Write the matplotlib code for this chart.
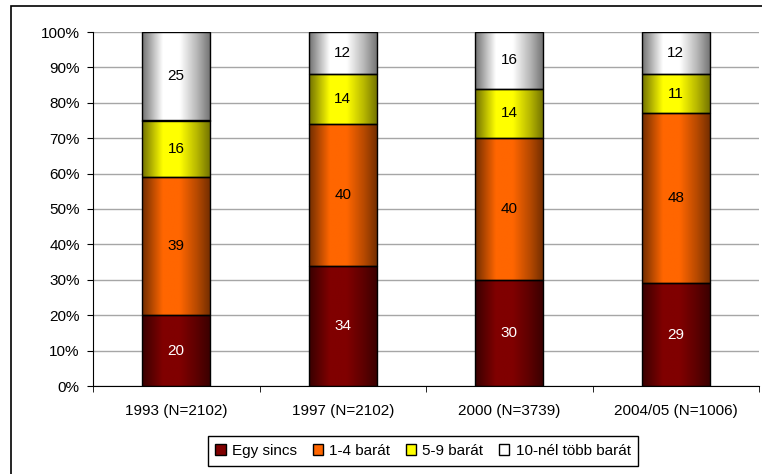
import numpy as np
import matplotlib
matplotlib.use("Agg")
import matplotlib.pyplot as plt
from matplotlib.patches import Patch, Rectangle
from matplotlib.colors import to_rgb

plt.rcParams["font.family"] = ["Liberation Sans", "DejaVu Sans"]

# ---------- data ----------
categories = ["1993 (N=2102)", "1997 (N=2102)", "2000 (N=3739)", "2004/05 (N=1006)"]
series_names = ["Egy sincs", "1-4 barát", "5-9 barát", "10-nél több barát"]
egy_sincs = [20, 34, 30, 29]
barat_1_4 = [39, 40, 40, 48]
barat_5_9 = [16, 14, 14, 11]
barat_10_plus = [25, 12, 16, 12]
series_values = [egy_sincs, barat_1_4, barat_5_9, barat_10_plus]

colors = ["#800000", "#FF6600", "#FFFF00", "#FFFFFF"]
label_colors = ["white", "black", "black", "black"]

FS = 11


def gradient_image(color, n=64):
    # horizontal shading: dark edges, bright middle
    t = np.linspace(0, 1, n)
    f = np.interp(t, [0, 0.3, 0.55, 0.8, 1.0], [0.45, 1.0, 1.0, 0.72, 0.45])
    rgb = np.array(to_rgb(color))
    img = np.clip(f[:, None] * rgb[None, :], 0, 1)
    return img[None, :, :]


def main():
    fig = plt.figure(figsize=(7.62, 4.74), dpi=100)
    ax = fig.add_axes([93 / 762, 1 - 386 / 474, 666 / 762, 354 / 474])

    x = np.arange(len(categories))
    width = 0.41
    bottom = np.zeros(len(categories))
    for vals, col, tcol in zip(series_values, colors, label_colors):
        vals = np.array(vals, dtype=float)
        for xi, b, v in zip(x, bottom, vals):
            ax.imshow(gradient_image(col), extent=(xi - width / 2, xi + width / 2, b, b + v),
                      aspect="auto", zorder=2, interpolation="bilinear")
            ax.text(xi, b + v / 2, "{:d}".format(int(v)), ha="center", va="center",
                    fontsize=FS, color=tcol, zorder=4)
        ax.bar(x, vals, width, bottom=bottom, facecolor="none", edgecolor="black",
               linewidth=1, zorder=3)
        bottom += vals

    ax.set_xlim(-0.5, len(categories) - 0.5)
    ax.set_ylim(0, 100)
    ax.set_yticks(np.arange(0, 101, 10))
    ax.set_yticklabels(["{}%".format(v) for v in range(0, 101, 10)])
    ax.yaxis.grid(True, color="#a6a6a6", linewidth=1)
    ax.set_axisbelow(True)

    ax.set_xticks(x)
    ax.set_xticklabels(categories)
    ax.set_xticks(np.arange(-0.5, len(categories)), minor=True)
    ax.tick_params(axis="x", which="major", length=0, pad=13, labelsize=FS)
    ax.tick_params(axis="x", which="minor", length=4.5, direction="out", color="black")
    ax.tick_params(axis="y", length=4.5, direction="out", pad=5, labelsize=FS)

    for s in ["top", "right"]:
        ax.spines[s].set_visible(False)
    ax.spines["left"].set_color("black")
    ax.spines["bottom"].set_color("black")

    handles = [Patch(facecolor=c, edgecolor="black", linewidth=1) for c in colors]
    fig.legend(handles, series_names, loc="center", bbox_to_anchor=(423 / 762, 1 - 451 / 474),
               ncol=4, fontsize=FS, frameon=True, fancybox=False, edgecolor="black",
               framealpha=1, handlelength=0.7, handleheight=0.7, handletextpad=0.4,
               columnspacing=1.0, borderpad=0.5)

    # outer chart frame (left and top edges visible)
    fig.patches.append(Rectangle((11 / 762, -0.1), 1.2, 1 - 6 / 474 + 0.1, transform=fig.transFigure,
                                 facecolor="none", edgecolor="black", linewidth=1.2))

    fig.savefig("out.png", dpi=100)
    plt.close(fig)


if __name__ == "__main__":
    main()
